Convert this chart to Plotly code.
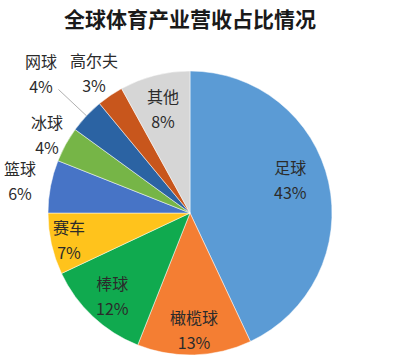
import math
import plotly.graph_objects as go

categories = ["足球", "橄榄球", "棒球", "赛车", "篮球", "冰球", "网球", "高尔夫", "其他"]
shares = [43, 13, 12, 7, 6, 4, 4, 3, 8]
colors = ["#5B9BD5", "#F47E33", "#10AA4F", "#FFC31C", "#4774C6",
          "#76B547", "#2B63A3", "#C8561C", "#D6D6D6"]
# label placement relative to each slice (style only)
label_radius = [0.75, 0.82, 0.80, 0.87, 1.22, 1.15, 1.44, 1.20, 0.76]
label_angle_shift = [-6, 0, 0, 0, 0, 0, 0, 0, 0]  # degrees
leader_line = [False, False, False, False, False, False, True, True, False]
title_text = "全球体育产业营收占比情况"

W, H = 417, 358
cx, cy, r = 190, 213, 142
FONT = "Noto Sans CJK SC"

fig = go.Figure(go.Pie(
    labels=categories,
    values=shares,
    sort=False,
    direction="clockwise",
    rotation=0,
    marker=dict(colors=colors, line=dict(color="rgba(255,255,255,0.7)", width=0.7)),
    textinfo="none",
    showlegend=False,
    hoverinfo="label+percent",
    domain=dict(x=[(cx - r) / W, (cx + r) / W],
                y=[(H - cy - r) / H, (H - cy + r) / H]),
))

# labels placed at each slice's mid-angle (clockwise from 12 o'clock)
total = sum(shares)
cum = 0
for cat, val, k, shift, line in zip(categories, shares, label_radius,
                                    label_angle_shift, leader_line):
    mid = (cum + val / 2) / total * 2 * math.pi
    cum += val
    ang = mid + math.radians(shift)
    s, c = math.sin(ang), math.cos(ang)
    text = f"<span style='font-size:16px'>{cat}<br>{val}%</span>"
    if line:
        tipx, tipy = cx + r * s, cy - r * c
        d = (k - 1) * r
        fig.add_annotation(
            x=tipx / W, y=1 - tipy / H, xref="paper", yref="paper",
            text=text, showarrow=True, arrowhead=0, arrowwidth=0.9,
            arrowcolor="#a6a6a6", ax=d * s, ay=-d * c,
            font=dict(family=FONT, size=19, color="#2b2b2b"),
        )
    else:
        px, py = cx + k * r * s, cy - k * r * c
        fig.add_annotation(
            x=px / W, y=1 - py / H, xref="paper", yref="paper",
            text=text, showarrow=False, xanchor="center", yanchor="middle",
            font=dict(family=FONT, size=19, color="#2b2b2b"),
        )

fig.update_layout(
    width=W, height=H,
    margin=dict(l=0, r=0, t=0, b=0),
    paper_bgcolor="white",
    plot_bgcolor="white",
    title=dict(text="<b>" + title_text + "</b>", x=190 / W, xanchor="center",
               y=1 - 20 / H, yanchor="middle",
               font=dict(family=FONT, size=21, color="#1a1a1a")),
)

fig.write_html("out.html", config={"displayModeBar": False},
               post_script="document.body.style.margin='0';document.body.style.overflow='hidden';")
